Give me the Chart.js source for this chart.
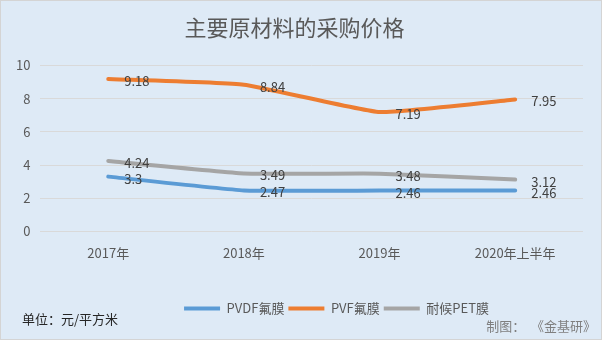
<!DOCTYPE html>
<html>
<head>
<meta charset="utf-8">
<script src="https://cdn.jsdelivr.net/npm/chart.js@4"></script>
<style>
  html, body { margin: 0; padding: 0; background: #fff; }
  #wrap { width: 602px; height: 340px; position: relative; }
</style>
</head>
<body>
<div id="wrap"><canvas id="myLineChart" width="602" height="340"></canvas></div>
<script>
var categories = ["2017年", "2018年", "2019年", "2020年上半年"];
var pvdfValues = [3.3, 2.47, 2.46, 2.46];
var pvfValues = [9.18, 8.84, 7.19, 7.95];
var petValues = [4.24, 3.49, 3.48, 3.12];
var seriesNames = ["PVDF氟膜", "PVF氟膜", "耐候PET膜"];
var seriesColors = ["#5b9bd5", "#ed7d31", "#a5a5a5"];
var yTicks = [0, 2, 4, 6, 8, 10];

var FONT = "'Noto Sans CJK SC', 'Noto Sans', sans-serif";

// background, frame and footer texts
var frame = {
  id: "frame",
  beforeDraw: function (chart) {
    var c = chart.ctx;
    c.save();
    c.fillStyle = "#deeaf6";
    c.fillRect(0, 0, chart.width, chart.height);
    c.strokeStyle = "#d4d4d4";
    c.lineWidth = 1;
    c.strokeRect(0.5, 0.5, chart.width - 1, chart.height - 1);
    c.restore();
  },
  afterDraw: function (chart) {
    var c = chart.ctx;
    c.save();
    c.font = "13px " + FONT;
    c.fillStyle = "#262626";
    c.textBaseline = "middle";
    c.fillText("单位：元/平方米", 22, 319);
    c.fillStyle = "#7f7f7f";
    c.textAlign = "right";
    c.fillText("制图：  《金基研》", 596, 326);
    c.restore();
  }
};

// value labels to the right of each point
var valueLabels = {
  id: "valueLabels",
  afterDatasetsDraw: function (chart) {
    var c = chart.ctx;
    c.save();
    c.font = "13px " + FONT;
    c.fillStyle = "#404040";
    c.textAlign = "left";
    c.textBaseline = "middle";
    chart.data.datasets.forEach(function (ds, i) {
      chart.getDatasetMeta(i).data.forEach(function (pt, j) {
        c.fillText(String(ds.data[j]), pt.x + 16, pt.y + 2);
      });
    });
    c.restore();
  }
};

// nudge the legend to the right like the original
var legendShift = {
  id: "legendShift",
  afterLayout: function (chart) {
    chart.legend.left += 42;
    chart.legend.right += 42;
  }
};

function makeSet(i, values) {
  return {
    label: seriesNames[i],
    data: values,
    borderColor: seriesColors[i],
    backgroundColor: seriesColors[i],
    pointBorderColor: seriesColors[i],
    pointBackgroundColor: seriesColors[i],
    pointBorderWidth: 4
  };
}

var ctx = document.getElementById("myLineChart").getContext("2d");
var myLineChart = new Chart(ctx, {
  type: "line",
  data: {
    labels: categories,
    datasets: [makeSet(0, pvdfValues), makeSet(1, pvfValues), makeSet(2, petValues)]
  },
  options: {
    responsive: false,
    animation: false,
    layout: { padding: { left: 6, right: 19, top: 2, bottom: 15 } },
    elements: {
      line: { borderWidth: 4, tension: 0.12, borderCapStyle: "round" },
      point: { radius: 0, hoverRadius: 0, pointStyle: "line" }
    },
    scales: {
      x: {
        offset: true,
        grid: { display: false },
        border: { display: false },
        ticks: { color: "#595959", font: { family: FONT, size: 13 }, padding: 6 },
        afterFit: function (axis) { axis.height += 31; }
      },
      y: {
        min: 0,
        max: 10,
        afterBuildTicks: function (axis) {
          axis.ticks = yTicks.map(function (v) { return { value: v }; });
        },
        grid: { color: "#d9d9d9", lineWidth: 1, drawTicks: false },
        border: { display: false },
        ticks: { color: "#595959", font: { family: FONT, size: 13 }, padding: 10 }
      }
    },
    plugins: {
      title: {
        display: true,
        text: "主要原材料的采购价格",
        color: "#595959",
        font: { family: FONT, size: 22, weight: "normal" },
        padding: { top: 12, bottom: 25 }
      },
      legend: {
        position: "bottom",
        labels: {
          color: "#595959",
          font: { family: FONT, size: 13 },
          usePointStyle: true,
          pointStyleWidth: 36,
          padding: 4
        }
      },
      tooltip: { enabled: false }
    }
  },
  plugins: [frame, valueLabels, legendShift]
});
</script>
</body>
</html>
